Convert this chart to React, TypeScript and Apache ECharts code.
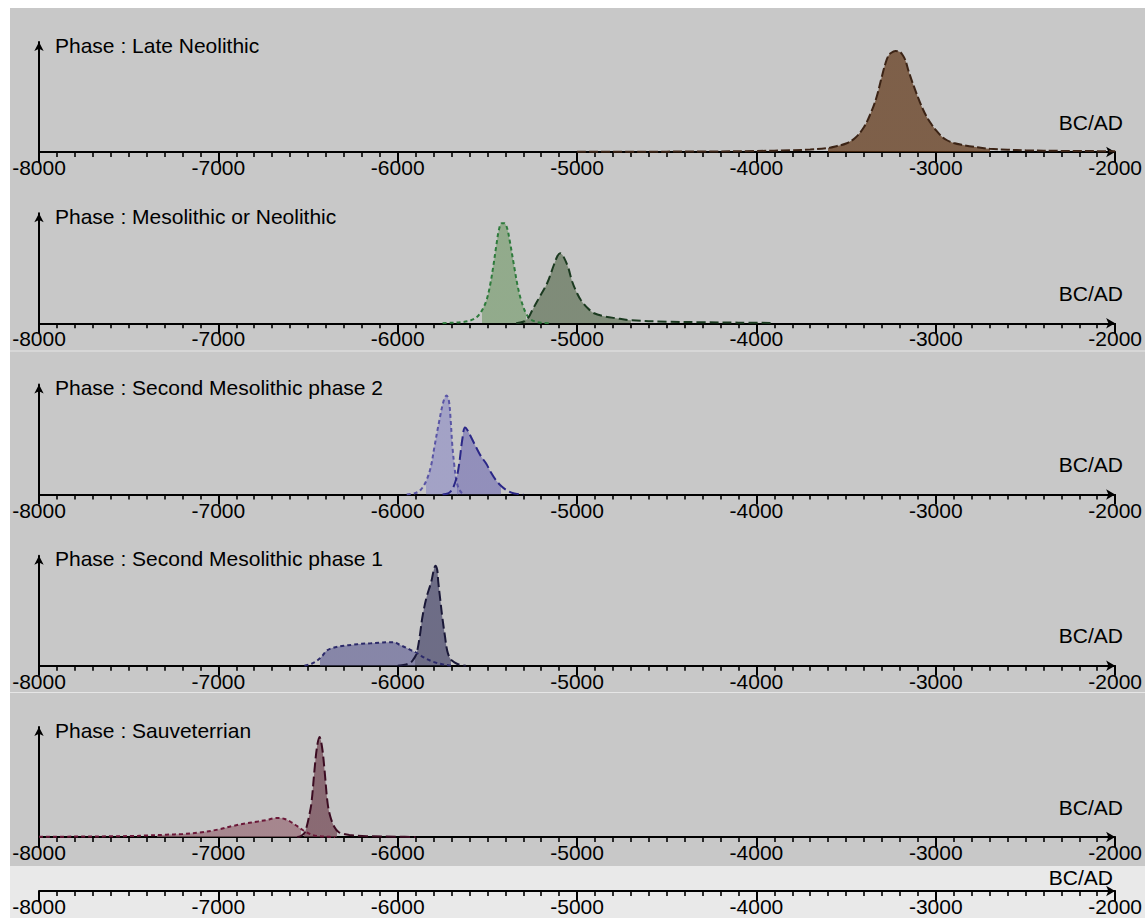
import React, { useEffect, useRef } from "react";
import * as echarts from "echarts";

// ---- axis ----
const xMin = -8000;
const xMax = -2000;
const xStep = 1000;
const xMinorStep = 100;
const axisName = "BC/AD";

// ---- phases ----
const phaseNames = [
  "Late Neolithic",
  "Mesolithic or Neolithic",
  "Second Mesolithic phase 2",
  "Second Mesolithic phase 1",
  "Sauveterrian",
];

// ---- densities (relative heights) ----
const lateNeolithicYears = [-5000, -4700, -4300, -4000, -3800, -3700, -3600, -3550, -3500, -3450, -3400, -3360, -3330, -3300, -3280, -3265, -3250, -3225, -3200, -3185, -3170, -3150, -3125, -3100, -3075, -3050, -3025, -3000, -2970, -2940, -2900, -2850, -2780, -2700, -2600, -2500, -2300, -2000];
const lateNeolithicDensity = [0.2, 0.3, 0.5, 1, 1.8, 2.5, 4, 6, 8.5, 14, 25, 40, 55, 76, 89, 96, 99, 101, 100, 97, 92, 80, 67, 55, 44, 35, 28, 22, 16, 12, 9, 7, 5, 3.2, 2.3, 1.7, 1.1, 0.8];
const lateNeolithicRange = [-3600, -2700];

const mesoNeoAYears = [-5750, -5700, -5650, -5600, -5560, -5530, -5505, -5485, -5468, -5450, -5435, -5420, -5405, -5390, -5375, -5350, -5330, -5310, -5285, -5260, -5230, -5200, -5150];
const mesoNeoADensity = [0, 0.5, 1, 2.5, 6, 13, 23, 38, 56, 78, 94, 100, 100, 95, 82, 56, 36, 22, 10, 4, 1.5, 0.5, 0];
const mesoNeoARange = [-5530, -5285];

const mesoNeoBYears = [-5340, -5300, -5270, -5250, -5210, -5167, -5130, -5110, -5095, -5080, -5050, -5028, -5000, -4978, -4940, -4905, -4850, -4783, -4700, -4500, -4300, -4100, -3900];
const mesoNeoBDensity = [0, 1.5, 6, 13, 26, 40, 58, 67, 70, 68, 56, 42, 30, 23, 15, 10, 7, 5, 3, 1.6, 1, 0.6, 0.3];
const mesoNeoBRange = [-5300, -4700];

const second2AYears = [-5950, -5900, -5870, -5840, -5815, -5796, -5770, -5745, -5728, -5715, -5705, -5696, -5685, -5673, -5660, -5645, -5630];
const second2ADensity = [0, 1.5, 5, 14, 28, 47, 72, 93, 99, 94, 75, 50, 30, 14, 6, 2, 0];
const second2ARange = [-5845, -5665];

const second2BYears = [-5750, -5720, -5700, -5690, -5670, -5657, -5640, -5625, -5610, -5590, -5562, -5535, -5507, -5480, -5451, -5420, -5390, -5360, -5330, -5300];
const second2BDensity = [0, 1, 4, 7, 18, 31, 55, 67, 64, 57, 47, 38, 31, 22, 14, 8, 4, 1.5, 0.5, 0];
const second2BRange = [-5668, -5423];

const second1AYears = [-6520, -6480, -6450, -6420, -6397, -6360, -6300, -6250, -6200, -6150, -6100, -6050, -6020, -5990, -5952, -5920, -5896, -5870, -5841, -5810, -5785, -5750, -5720, -5690];
const second1ADensity = [0, 2, 5, 10, 15, 18, 20, 21, 22, 22.5, 23, 23.5, 23.5, 21, 18, 15, 13, 10, 7, 4.5, 3, 1.5, 0.5, 0];
const second1ARange = [-6436, -5905];

const second1BYears = [-6000, -5960, -5930, -5918, -5900, -5891, -5875, -5863, -5840, -5813, -5800, -5790, -5780, -5774, -5762, -5751, -5737, -5724, -5710, -5696, -5670, -5645, -5620];
const second1BDensity = [0, 1, 3, 5, 10, 15, 32, 48, 68, 84, 95, 100, 96, 84, 65, 48, 30, 15, 8, 5, 2, 0.5, 0];
const second1BRange = [-5905, -5705];

const sauvAYears = [-8000, -7800, -7600, -7476, -7400, -7290, -7200, -7104, -7000, -6920, -6850, -6780, -6731, -6690, -6660, -6630, -6600, -6570, -6530, -6500, -6475, -6440, -6400, -6350];
const sauvADensity = [0.3, 0.4, 0.7, 1, 1.5, 2.3, 3, 4.5, 7.5, 11, 13.5, 15.5, 17, 18.7, 19, 18, 15.5, 12, 7, 4, 2, 0.8, 0.3, 0];
const sauvARange = [-7340, -6540];

const sauvBYears = [-6560, -6540, -6520, -6508, -6495, -6481, -6464, -6450, -6436, -6422, -6408, -6391, -6375, -6353, -6330, -6300, -6269, -6174, -6000, -5900];
const sauvBDensity = [0, 1, 4, 10, 20, 34, 67, 90, 100, 90, 67, 34, 20, 10, 5, 3, 2, 0.8, 0.3, 0];
const sauvBRange = [-6520, -6340];

const FONT = "'Liberation Sans', Arial, Helvetica, sans-serif";
const W = 1145;
const H = 918;
const axisYs = [152, 323.25, 494.5, 665.75, 837];
const plotH = 110;
const gridLeft = 39;
const gridRight = 28;
const stripAxisY = 891;

const curves = [
  { panel: 0, years: lateNeolithicYears, dens: lateNeolithicDensity, range: lateNeolithicRange, fill: "rgba(94,51,19,0.7)", stroke: "#3c2416", dash: [9, 3] },
  { panel: 1, years: mesoNeoAYears, dens: mesoNeoADensity, range: mesoNeoARange, fill: "rgba(123,158,114,0.7)", stroke: "#2e7b3c", dash: [4, 3] },
  { panel: 1, years: mesoNeoBYears, dens: mesoNeoBDensity, range: mesoNeoBRange, fill: "rgba(96,114,87,0.7)", stroke: "#1b3a20", dash: [9, 4] },
  { panel: 2, years: second2AYears, dens: second2ADensity, range: second2ARange, fill: "rgba(147,146,197,0.7)", stroke: "#5a55a5", dash: [4, 3] },
  { panel: 2, years: second2BYears, dens: second2BDensity, range: second2BRange, fill: "rgba(123,119,181,0.7)", stroke: "#2b2787", dash: [10, 4] },
  { panel: 3, years: second1AYears, dens: second1ADensity, range: second1ARange, fill: "rgba(107,106,154,0.7)", stroke: "#2c2a6a", dash: [4, 3] },
  { panel: 3, years: second1BYears, dens: second1BDensity, range: second1BRange, fill: "rgba(71,70,106,0.7)", stroke: "#1a1838", dash: [10, 4] },
  { panel: 4, years: sauvAYears, dens: sauvADensity, range: sauvARange, fill: "rgba(151,106,117,0.7)", stroke: "#6b1838", dash: [4, 3] },
  { panel: 4, years: sauvBYears, dens: sauvBDensity, range: sauvBRange, fill: "rgba(111,66,79,0.7)", stroke: "#3c0c22", dash: [10, 4] },
];

// major axis: line, arrow, long ticks, labels
function makeMajorXAxis(gridIndex: number) {
  return {
    gridIndex,
    type: "value",
    position: "bottom",
    min: xMin,
    max: xMax,
    interval: xStep,
    axisLine: {
      show: true,
      onZero: false,
      symbol: ["none", "arrow"],
      symbolSize: [8, 9],
      lineStyle: { color: "#000", width: 2 },
    },
    axisTick: { show: true, inside: false, length: 10, lineStyle: { color: "#000", width: 2 } },
    axisLabel: {
      show: true,
      color: "#000",
      fontSize: 21,
      fontFamily: FONT,
      margin: 5,
      showMinLabel: true,
      showMaxLabel: true,
      hideOverlap: false,
      formatter: (v: number) => String(v),
    },
    splitLine: { show: false },
  };
}

// minor axis: only the short ticks every 100 years
function makeMinorXAxis(gridIndex: number) {
  return {
    gridIndex,
    type: "value",
    position: "bottom",
    offset: 0,
    min: xMin,
    max: xMax,
    interval: xMinorStep,
    axisLine: { show: false, onZero: false },
    axisTick: { show: true, inside: false, length: 5, lineStyle: { color: "#000", width: 1.6 } },
    axisLabel: { show: false },
    splitLine: { show: false },
  };
}

export default function App() {
  const ref = useRef<HTMLDivElement>(null);

  useEffect(() => {
    if (!ref.current) return;
    const chart = echarts.init(ref.current, undefined, { renderer: "svg" });

    const grids: any[] = [];
    const xAxes: any[] = [];
    const yAxes: any[] = [];
    const majorIndex: number[] = [];
    axisYs.forEach((ay, i) => {
      grids.push({ left: gridLeft, right: gridRight, top: ay - plotH, height: plotH });
      majorIndex.push(xAxes.length);
      xAxes.push(makeMajorXAxis(i));
      xAxes.push(makeMinorXAxis(i));
      yAxes.push({
        gridIndex: i,
        type: "value",
        min: 0,
        max: plotH,
        axisLine: { show: true, symbol: ["none", "arrow"], symbolSize: [7, 9], lineStyle: { color: "#000", width: 2 } },
        axisTick: { show: false },
        axisLabel: { show: false },
        splitLine: { show: false },
      });
    });
    // bottom strip axis
    const stripGrid = axisYs.length;
    grids.push({ left: gridLeft, right: gridRight, top: stripAxisY - 20, height: 20 });
    xAxes.push(makeMajorXAxis(stripGrid));
    xAxes.push(makeMinorXAxis(stripGrid));
    yAxes.push({ gridIndex: stripGrid, type: "value", min: 0, max: 1, show: false });

    const series: any[] = [];
    const visualMaps: any[] = [];
    curves.forEach((c) => {
      const data = c.years.map((yr, k) => [yr, c.dens[k]]);
      visualMaps.push({
        type: "piecewise",
        show: false,
        dimension: 0,
        seriesIndex: series.length,
        pieces: [{ gte: c.range[0], lte: c.range[1], color: c.fill }],
        outOfRange: { color: "rgba(0,0,0,0)" },
      });
      series.push({
        type: "line",
        xAxisIndex: majorIndex[c.panel],
        yAxisIndex: c.panel,
        data,
        smooth: 0.35,
        symbol: "none",
        silent: true,
        lineStyle: { width: 0, opacity: 0 },
        areaStyle: { opacity: 1 },
        z: 1,
      });
    });
    curves.forEach((c) => {
      const data = c.years.map((yr, k) => [yr, c.dens[k]]);
      series.push({
        type: "line",
        xAxisIndex: majorIndex[c.panel],
        yAxisIndex: c.panel,
        data,
        smooth: 0.35,
        symbol: "none",
        silent: true,
        lineStyle: { color: c.stroke, width: 2, type: c.dash },
        z: 3,
      });
    });

    const graphics: any[] = [
      { type: "rect", z: -10, shape: { x: 10, y: 8, width: W - 10, height: 858 }, style: { fill: "#c8c8c8" } },
      { type: "rect", z: -10, shape: { x: 10, y: 866, width: W - 10, height: H - 866 }, style: { fill: "#e9e9e9" } },
      { type: "line", z: -9, shape: { x1: 10, y1: 351, x2: W, y2: 351 }, style: { stroke: "#e6e6e6", lineWidth: 1 } },
      { type: "line", z: -9, shape: { x1: 10, y1: 692.5, x2: W, y2: 692.5 }, style: { stroke: "#e6e6e6", lineWidth: 1 } },
    ];
    axisYs.forEach((ay, i) => {
      graphics.push({
        type: "text",
        z: 10,
        x: 55,
        y: ay - 107,
        style: { text: "Phase : " + phaseNames[i], fontSize: 21, fontFamily: FONT, fill: "#000", align: "left", verticalAlign: "middle" },
      });
      graphics.push({
        type: "text",
        z: 10,
        x: 1123,
        y: ay - 30,
        style: { text: axisName, fontSize: 21, fontFamily: FONT, fill: "#000", align: "right", verticalAlign: "middle" },
      });
    });
    graphics.push({
      type: "text",
      z: 10,
      x: 1113,
      y: 877,
      style: { text: axisName, fontSize: 21, fontFamily: FONT, fill: "#000", align: "right", verticalAlign: "middle" },
    });

    chart.setOption({
      animation: false,
      backgroundColor: "#fff",
      grid: grids,
      xAxis: xAxes,
      yAxis: yAxes,
      visualMap: visualMaps,
      series,
      graphic: graphics,
    });

    return () => chart.dispose();
  }, []);

  return (
    <div
      ref={ref}
      style={{ position: "fixed", left: 0, top: 0, width: W, height: H }}
    />
  );
}
